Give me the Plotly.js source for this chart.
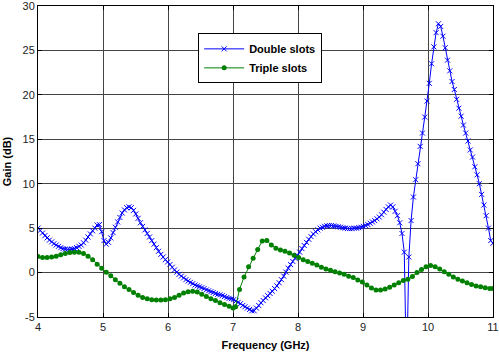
<!DOCTYPE html>
<html>
<head>
<meta charset="utf-8">
<script src="https://cdn.plot.ly/plotly-3.0.1.min.js"></script>
<style>
html,body{margin:0;padding:0;background:#fff;}
#chart{width:499px;height:352px;}
</style>
</head>
<body>
<div id="chart"></div>
<script>
// Frequency sampling grid for "Double slots" (start, step, count)
const doubleStart = 4.0;
const doubleStep = 0.035;
const doubleCount = 201;
const doubleFreq = [];
for (let i = 0; i < doubleCount; i++) doubleFreq.push(+(doubleStart + i * doubleStep).toFixed(3));

// Gain (dB) of "Double slots"
const doubleGain = [
  5.0, 4.75, 4.45, 4.15, 3.9, 3.65, 3.45, 3.25, 3.1, 2.95,
  2.8, 2.7, 2.65, 2.6, 2.6, 2.65, 2.7, 2.8, 2.95, 3.1,
  3.35, 3.65, 4.0, 4.35, 4.7, 5.0, 5.35, 5.4, 4.6, 3.6,
  3.2, 3.4, 3.9, 4.5, 5.1, 5.7, 6.2, 6.7, 7.05, 7.3,
  7.4, 7.3, 7.0, 6.6, 6.1, 5.6, 5.2, 4.8, 4.4, 4.0,
  3.6, 3.2, 2.8, 2.4, 2.05, 1.75, 1.45, 1.2, 0.9, 0.6,
  0.3, 0.05, -0.2, -0.4, -0.6, -0.8, -0.95, -1.1, -1.25, -1.4,
  -1.5, -1.6, -1.7, -1.8, -1.95, -2.05, -2.15, -2.25, -2.35, -2.45,
  -2.5, -2.6, -2.7, -2.8, -2.9, -2.95, -3.05, -3.2, -3.35, -3.5,
  -3.7, -3.85, -4.0, -4.15, -4.3, -4.3, -4.0, -3.7, -3.4, -3.15,
  -2.85, -2.6, -2.35, -2.1, -1.8, -1.5, -1.15, -0.8, -0.4, 0.05,
  0.5, 0.9, 1.25, 1.6, 1.95, 2.3, 2.7, 3.05, 3.4, 3.75,
  4.05, 4.35, 4.6, 4.8, 5.0, 5.1, 5.2, 5.25, 5.3, 5.3,
  5.25, 5.2, 5.15, 5.1, 5.05, 5.0, 4.95, 4.95, 4.95, 5.0,
  5.0, 5.05, 5.1, 5.2, 5.3, 5.4, 5.55, 5.7, 5.85, 6.05,
  6.25, 6.5, 6.8, 7.1, 7.4, 7.6, 7.4, 6.9, 6.4, 5.6,
  4.4, 2.3, -12.0, 1.75, 5.85, 8.5, 10.45, 12.25, 14.2, 15.7,
  17.5, 19.3, 21.3, 23.5, 25.4, 27.0, 28.0, 27.7, 26.6, 25.3,
  23.9, 22.7, 21.5, 20.6, 19.5, 18.5, 17.6, 16.6, 15.7, 14.8,
  13.8, 13.0, 11.9, 11.0, 10.0, 8.8, 7.6, 6.4, 5.0, 3.6,
  3.3
];

// Frequency (GHz) and Gain (dB) of "Triple slots"
const tripleFreq = [
  4.00, 4.07, 4.14, 4.21, 4.28, 4.35, 4.42, 4.49, 4.56, 4.63,
  4.70, 4.77, 4.84, 4.91, 4.98, 5.05, 5.12, 5.19, 5.26, 5.33,
  5.40, 5.47, 5.54, 5.61, 5.68, 5.75, 5.82, 5.89, 5.96, 6.03,
  6.10, 6.17, 6.24, 6.31, 6.38, 6.45, 6.52, 6.59, 6.66, 6.73,
  6.80, 6.87, 6.94, 7.00, 7.04, 7.10, 7.17, 7.24, 7.31, 7.38,
  7.45, 7.52, 7.59, 7.66, 7.73, 7.80, 7.87, 7.94, 8.01, 8.08,
  8.15, 8.22, 8.29, 8.36, 8.43, 8.50, 8.57, 8.64, 8.71, 8.78,
  8.85, 8.92, 8.99, 9.06, 9.13, 9.20, 9.27, 9.34, 9.41, 9.48,
  9.55, 9.62, 9.69, 9.76, 9.83, 9.90, 9.97, 10.04, 10.11, 10.18,
  10.25, 10.32, 10.39, 10.46, 10.53, 10.60, 10.67, 10.74, 10.81, 10.88,
  10.95, 11.00
];
const tripleGain = [
  1.8, 1.7, 1.7, 1.75, 1.85, 2.0, 2.15, 2.25, 2.3, 2.3,
  2.15, 1.85, 1.45, 0.95, 0.5, 0.05, -0.35, -0.8, -1.2, -1.6,
  -1.9, -2.25, -2.55, -2.8, -2.95, -3.05, -3.1, -3.1, -3.05, -2.95,
  -2.8, -2.55, -2.3, -2.15, -2.1, -2.2, -2.45, -2.7, -2.95, -3.15,
  -3.4, -3.6, -3.8, -4.0, -3.85, -1.9, -0.5, 0.65, 1.6, 2.6,
  3.55, 3.6, 3.1, 2.75, 2.55, 2.4, 2.2, 1.95, 1.7, 1.45,
  1.25, 1.05, 0.85, 0.6, 0.4, 0.25, 0.1, -0.05, -0.2, -0.4,
  -0.55, -0.85, -1.05, -1.4, -1.75, -1.95, -1.95, -1.85, -1.65, -1.4,
  -1.15, -0.9, -0.75, -0.45, 0.0, 0.35, 0.65, 0.8, 0.65, 0.4,
  0.1, -0.2, -0.5, -0.75, -0.95, -1.15, -1.35, -1.5, -1.6, -1.7,
  -1.8, -1.8
];

const xTickVals = [4, 5, 6, 7, 8, 9, 10, 11];
const yTickVals = [-5, 0, 5, 10, 15, 20, 25, 30];

const FONT = '"Liberation Sans", Arial, Helvetica, sans-serif';

const traces = [
  {
    x: doubleFreq, y: doubleGain, name: 'Double slots', type: 'scatter', mode: 'lines+markers',
    line: {color: '#0000ff', width: 1},
    marker: {symbol: 'x-thin', size: 5, color: '#0000ff', line: {color: '#0000ff', width: 1}}
  },
  {
    x: tripleFreq, y: tripleGain, name: 'Triple slots', type: 'scatter', mode: 'lines+markers',
    line: {color: '#008000', width: 1},
    marker: {symbol: 'circle', size: 5, color: '#008000'}
  }
];

const axisCommon = {
  showline: true, mirror: 'ticks', linecolor: '#000', linewidth: 1,
  ticks: 'inside', ticklen: 4, tickcolor: '#000', tickwidth: 1,
  showgrid: true, gridcolor: '#444', gridwidth: 1, zeroline: false,
  ticklabeloverflow: 'allow',
  tickfont: {family: FONT, size: 11, color: '#222'}
};

const layout = {
  width: 499, height: 352,
  margin: {l: 38, r: 6, t: 6, b: 35},
  paper_bgcolor: '#fff', plot_bgcolor: '#fff',
  showlegend: true,
  font: {family: FONT, color: '#000'},
  xaxis: Object.assign({}, axisCommon, {
    range: [4, 11], tickvals: xTickVals, ticktext: xTickVals.map(String),
    title: {text: '<b>Frequency (GHz)</b>', font: {family: FONT, size: 11, color: '#000'}, standoff: 9}
  }),
  yaxis: Object.assign({}, axisCommon, {
    range: [-5, 30], tickvals: yTickVals, ticktext: yTickVals.map(String),
    title: {text: '<b>Gain (dB)</b>', font: {family: FONT, size: 11, color: '#000'}, standoff: 8}
  }),
  legend: {
    x: 0.352, y: 0.912, xanchor: 'left', yanchor: 'top',
    bgcolor: '#fff', bordercolor: '#000', borderwidth: 1,
    font: {family: FONT, size: 11, color: '#000', weight: 'bold'},
    itemwidth: 40, tracegroupgap: 0
  }
};

Plotly.newPlot('chart', traces, layout, {staticPlot: true, displayModeBar: false});
</script>
</body>
</html>
